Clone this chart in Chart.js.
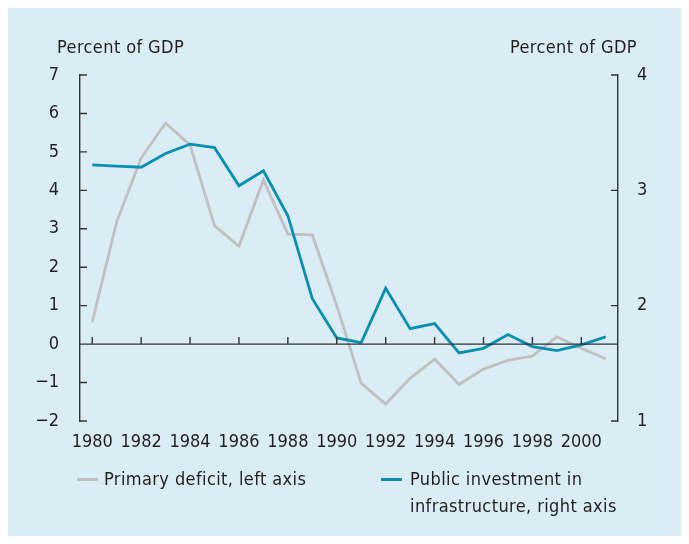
<!DOCTYPE html>
<html>
<head>
<meta charset="utf-8">
<script src="https://cdn.jsdelivr.net/npm/chart.js@4.4.0/dist/chart.umd.min.js"></script>
<style>
  body { margin: 0; background: #fff; font-family: "DejaVu Sans Condensed", "DejaVu Sans", sans-serif; color: #231f20; }
  #panel { position: absolute; left: 8px; top: 8px; width: 673px; height: 528px; background: #daecf4; }
  #chart { position: absolute; left: 0; top: 0; }
  .txt { position: absolute; font-size: 18px; line-height: 27px; letter-spacing: 0.4px; white-space: nowrap; }
  .swatch { position: absolute; width: 21px; height: 3px; }
</style>
</head>
<body>
<div id="panel"></div>
<canvas id="chart" width="689" height="544"></canvas>
<div class="txt" style="left:57px; top:33px;">Percent of GDP</div>
<div class="txt" style="right:52px; top:33px;">Percent of GDP</div>
<div class="swatch" style="left:77px; top:478px; background:#c0c0c0;"></div>
<div class="txt" style="left:104px; top:465px;">Primary deficit, left axis</div>
<div class="swatch" style="left:381px; top:478px; background:#0b8fb1;"></div>
<div class="txt" style="left:410px; top:465px;">Public investment in<br>infrastructure, right axis</div>
<script>
var years = ["1980","1981","1982","1983","1984","1985","1986","1987","1988","1989","1990",
             "1991","1992","1993","1994","1995","1996","1997","1998","1999","2000","2001"]
var primaryDeficit = [0.57, 3.18, 4.84, 5.75, 5.18, 3.08, 2.55, 4.27, 2.86, 2.84, 1.0,
                      -1.02, -1.56, -0.89, -0.39, -1.05, -0.65, -0.42, -0.31, 0.19, -0.11, -0.38]
var infraInvestment = [3.22, 3.21, 3.20, 3.32, 3.40, 3.37, 3.04, 3.17, 2.78, 2.06, 1.72,
                       1.68, 2.15, 1.80, 1.845, 1.59, 1.63, 1.75, 1.645, 1.61, 1.66, 1.73]
var leftTicks = [-2, 7]
var rightTicks = [1, 4]

var ink = "#231f20"
var tickFont = { family: "'DejaVu Sans Condensed', 'DejaVu Sans', sans-serif", size: 18 }

// zero line, inward tick marks on both value axes, upward year ticks on the zero line
var axisMarks = {
  id: "axisMarks",
  afterDatasetsDraw: function (chart) {
    var ctx = chart.ctx
    var area = chart.chartArea
    var x = chart.scales.x, yL = chart.scales.y, yR = chart.scales.y2
    var zeroY = yL.getPixelForValue(0)
    ctx.save()
    ctx.strokeStyle = "#333"
    ctx.lineWidth = 1.4
    ctx.beginPath()
    ctx.moveTo(area.left, zeroY)
    ctx.lineTo(area.right, zeroY)
    years.forEach(function (yr, i) {
      if (i % 2 == 0) {
        var px = x.getPixelForValue(i)
        ctx.moveTo(px, zeroY)
        ctx.lineTo(px, zeroY - 7)
      }
    })
    yL.ticks.forEach(function (t) {
      var py = yL.getPixelForValue(t.value)
      ctx.moveTo(area.left, py)
      ctx.lineTo(area.left + 7, py)
    })
    yR.ticks.forEach(function (t) {
      var py = yR.getPixelForValue(t.value)
      ctx.moveTo(area.right, py)
      ctx.lineTo(area.right - 7, py)
    })
    ctx.stroke()
    ctx.restore()
  }
}

function minusSign(v) { return String(v).replace("-", "\u2212") }

var myChart = new Chart(document.getElementById("chart"), {
  type: "line",
  data: {
    labels: years,
    datasets: [
      {
        label: "Primary deficit, left axis",
        data: primaryDeficit,
        yAxisID: "y",
        borderColor: "#c0c0c0",
        borderWidth: 2.8,
        pointRadius: 0,
        tension: 0,
        order: 2
      },
      {
        label: "Public investment in infrastructure, right axis",
        data: infraInvestment,
        yAxisID: "y2",
        borderColor: "#0b8fb1",
        borderWidth: 2.8,
        pointRadius: 0,
        tension: 0,
        order: 1
      }
    ]
  },
  options: {
    responsive: false,
    animation: false,
    layout: { padding: { top: 75, left: 0, right: 0, bottom: 0 } },
    plugins: { legend: { display: false }, tooltip: { enabled: false } },
    scales: {
      x: {
        type: "category",
        offset: true,
        grid: { display: false },
        border: { display: false },
        ticks: {
          autoSkip: false, maxRotation: 0, padding: 3, color: ink, font: tickFont,
          callback: function (v, i) { return i % 2 == 0 ? years[i] : "" }
        },
        afterFit: function (s) { s.height = 123 }
      },
      y: {
        position: "left",
        min: leftTicks[0], max: leftTicks[1],
        grid: { display: false },
        border: { display: true, color: "#333", width: 1.4 },
        ticks: { stepSize: 1, padding: 13, color: ink, font: tickFont, callback: minusSign },
        afterFit: function (s) { s.width = 80 }
      },
      y2: {
        position: "right",
        min: rightTicks[0], max: rightTicks[1],
        grid: { display: false },
        border: { display: true, color: "#333", width: 1.4 },
        ticks: { stepSize: 1, padding: 11, color: ink, font: tickFont },
        afterFit: function (s) { s.width = 71 }
      }
    }
  },
  plugins: [axisMarks]
})
</script>
</body>
</html>
